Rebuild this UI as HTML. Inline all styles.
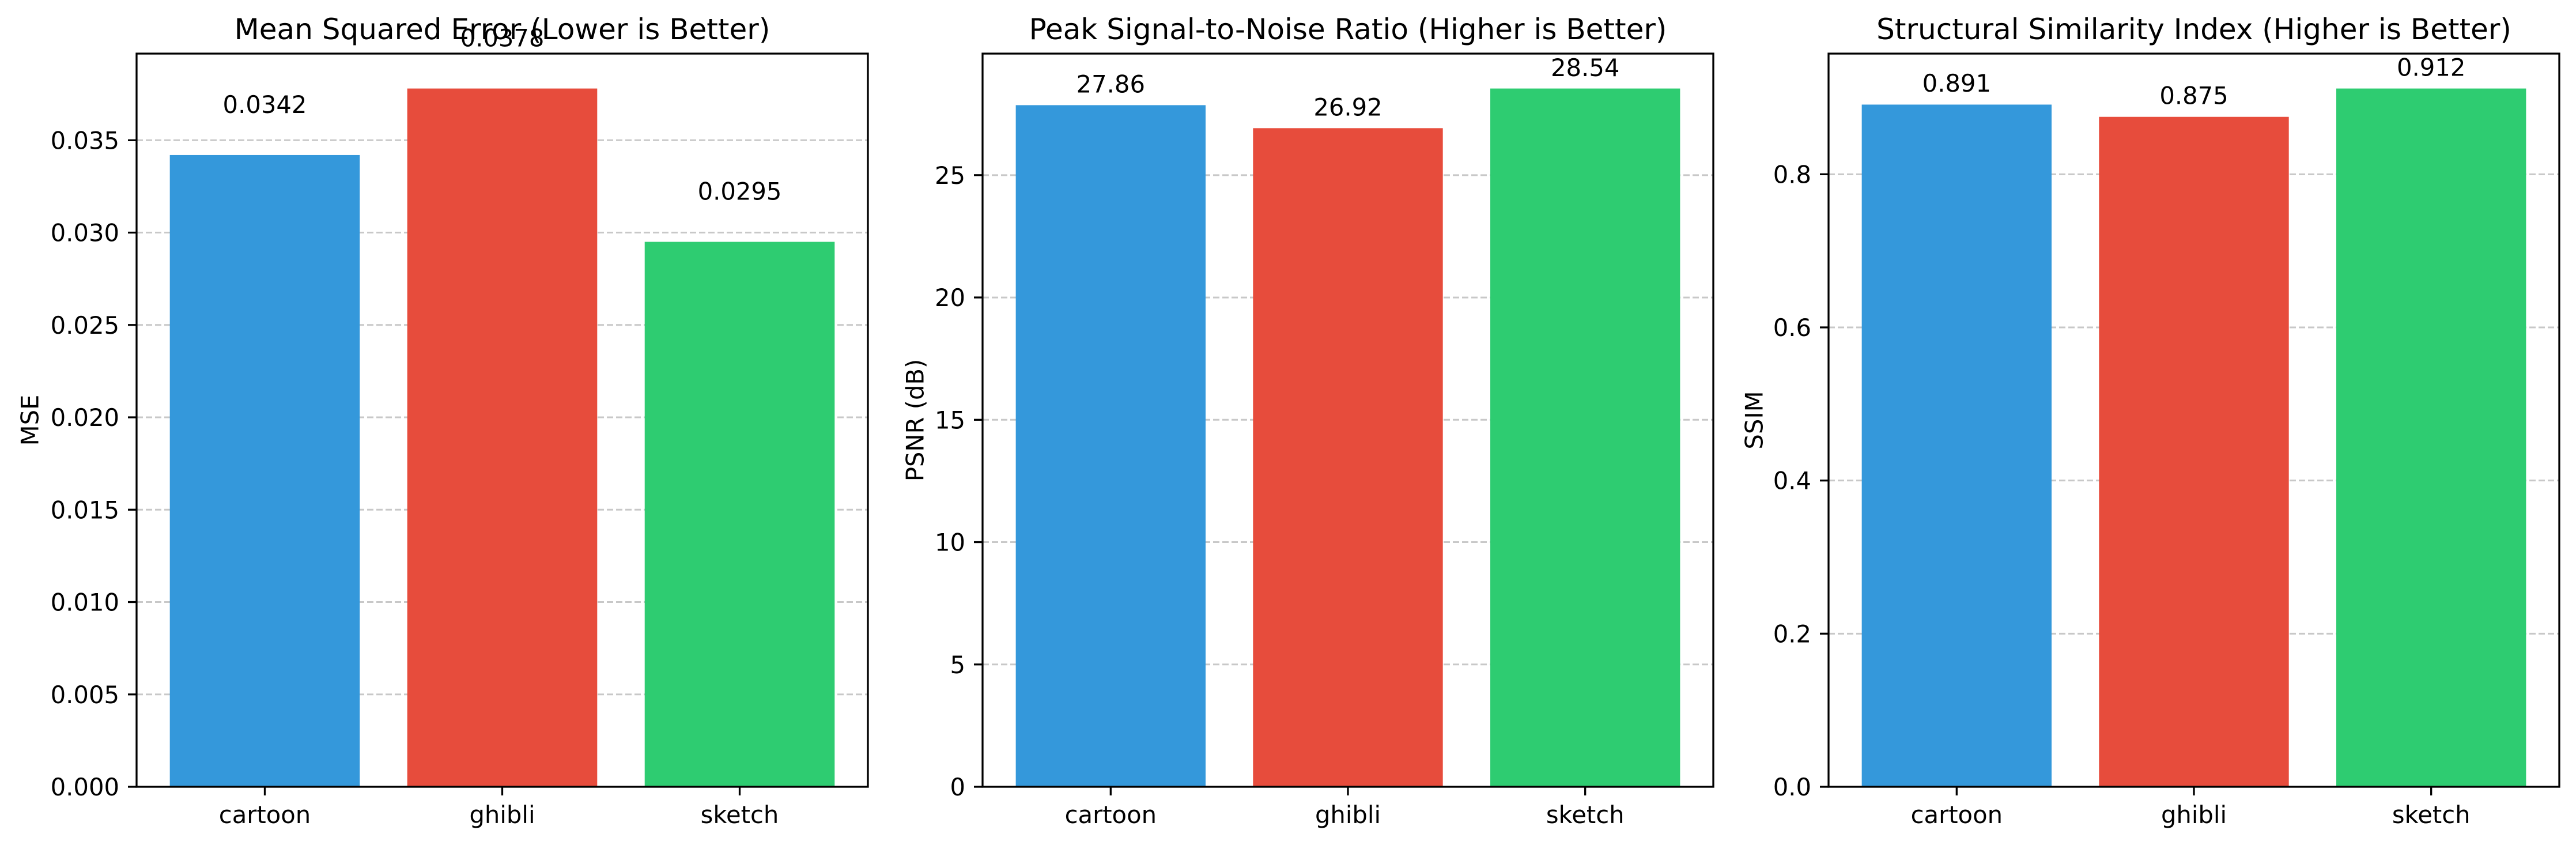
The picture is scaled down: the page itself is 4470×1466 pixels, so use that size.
<!DOCTYPE html>
<html><head><meta charset="utf-8"><style>
html,body{margin:0;padding:0;background:#fff;}
svg{display:block;font-family:"DejaVu Sans","Liberation Sans",sans-serif;}
</style></head><body>
<svg id="chart" width="4470" height="1466" viewBox="0 0 4470 1466" xmlns="http://www.w3.org/2000/svg"></svg>
<script>
const categories = ["cartoon", "ghibli", "sketch"];
const barColors = ["#3498db", "#e74c3c", "#2ecc71"];
const mseValues = [0.0342, 0.0378, 0.0295];
const psnrValues = [27.86, 26.92, 28.54];
const ssimValues = [0.891, 0.875, 0.912];
const mseLabels = ["0.0342", "0.0378", "0.0295"];
const psnrLabels = ["27.86", "26.92", "28.54"];
const ssimLabels = ["0.891", "0.875", "0.912"];
const mseTicks = [0, 0.005, 0.01, 0.015, 0.02, 0.025, 0.03, 0.035];
const mseTickLabels = ["0.000","0.005","0.010","0.015","0.020","0.025","0.030","0.035"];
const psnrTicks = [0, 5, 10, 15, 20, 25];
const psnrTickLabels = ["0","5","10","15","20","25"];
const ssimTicks = [0, 0.2, 0.4, 0.6, 0.8];
const ssimTickLabels = ["0.0","0.2","0.4","0.6","0.8"];

const NS = "http://www.w3.org/2000/svg";
const svg = document.getElementById("chart");
function mk(tag, attrs, parent) {
  const e = document.createElementNS(NS, tag);
  for (const k in attrs) e.setAttribute(k, attrs[k]);
  parent.appendChild(e);
  return e;
}

const panels = [
  {key:"mse", left:237, right:1506, title:"Mean Squared Error (Lower is Better)", ylabel:"MSE", ylx:52,
   values:mseValues, labels:mseLabels, ticks:mseTicks, tickLabels:mseTickLabels, off:0.002},
  {key:"psnr", left:1705, right:2973, title:"Peak Signal-to-Noise Ratio (Higher is Better)", ylabel:"PSNR (dB)", ylx:1588,
   values:psnrValues, labels:psnrLabels, ticks:psnrTicks, tickLabels:psnrTickLabels, off:0.3},
  {key:"ssim", left:3173, right:4441, title:"Structural Similarity Index (Higher is Better)", ylabel:"SSIM", ylx:3044,
   values:ssimValues, labels:ssimLabels, ticks:ssimTicks, tickLabels:ssimTickLabels, off:0.01}
];
const TOP = 93, BOTTOM = 1365;

panels.forEach(p => {
  const g = mk("g", {}, svg);
  
  
  const ymax = Math.max(...p.values) * 1.05;
  const y = v => BOTTOM - v / ymax * (BOTTOM - TOP);
  const x = v => p.left + (v + 0.54) / 3.08 * (p.right - p.left);

  // grid
  p.ticks.forEach((t, i) => {
    const gl = mk("line", {x1:p.left, x2:p.right, y1:y(t), y2:y(t), stroke:"#c8c8c8", "stroke-width":3, "stroke-dasharray":"11,5"}, g);
    
    
  });
  // bars
  p.values.forEach((v, i) => {
    const r = mk("rect", {x:x(i - 0.4), y:y(v), width:x(i + 0.4) - x(i - 0.4), height:BOTTOM - y(v), fill:barColors[i]}, g);
    
    
    const t = mk("text", {x:x(i), y:y(v + p.off) - 9, "text-anchor":"middle", "font-size":41.7, fill:"#000"}, g);
    t.textContent = p.labels[i];
    
    
  });
  // frame
  const fr = mk("rect", {x:p.left, y:TOP, width:p.right - p.left, height:BOTTOM - TOP, fill:"none", stroke:"#000", "stroke-width":3.3}, g);
  
  
  // y ticks
  p.ticks.forEach((t, i) => {
    const tk = mk("line", {x1:p.left - 15, x2:p.left, y1:y(t), y2:y(t), stroke:"#000", "stroke-width":3.3}, g);
    
    
    const tl = mk("text", {x:p.left - 30, y:y(t) + 15, "text-anchor":"end", "font-size":41.7, fill:"#000"}, g);
    tl.textContent = p.tickLabels[i];
    
    
  });
  // x ticks
  categories.forEach((c, i) => {
    const tk = mk("line", {x1:x(i), x2:x(i), y1:BOTTOM, y2:BOTTOM + 15, stroke:"#000", "stroke-width":3.3}, g);
    
    
    const tl = mk("text", {x:x(i), y:1428, "text-anchor":"middle", "font-size":41.7, fill:"#000"}, g);
    tl.textContent = c;
    
    
  });
  // title
  const ti = mk("text", {x:(p.left + p.right) / 2, y:68, "text-anchor":"middle", "font-size":50, fill:"#000"}, g);
  ti.textContent = p.title;
  
  
  // y label
  const cy = (TOP + BOTTOM) / 2;
  const yl = mk("text", {x:p.ylx, y:cy, "text-anchor":"middle", "font-size":41.7, fill:"#000", transform:`rotate(-90 ${p.ylx} ${cy})`, "dominant-baseline":"central"}, g);
  yl.textContent = p.ylabel;
  
  
});
</script>
</body></html>
